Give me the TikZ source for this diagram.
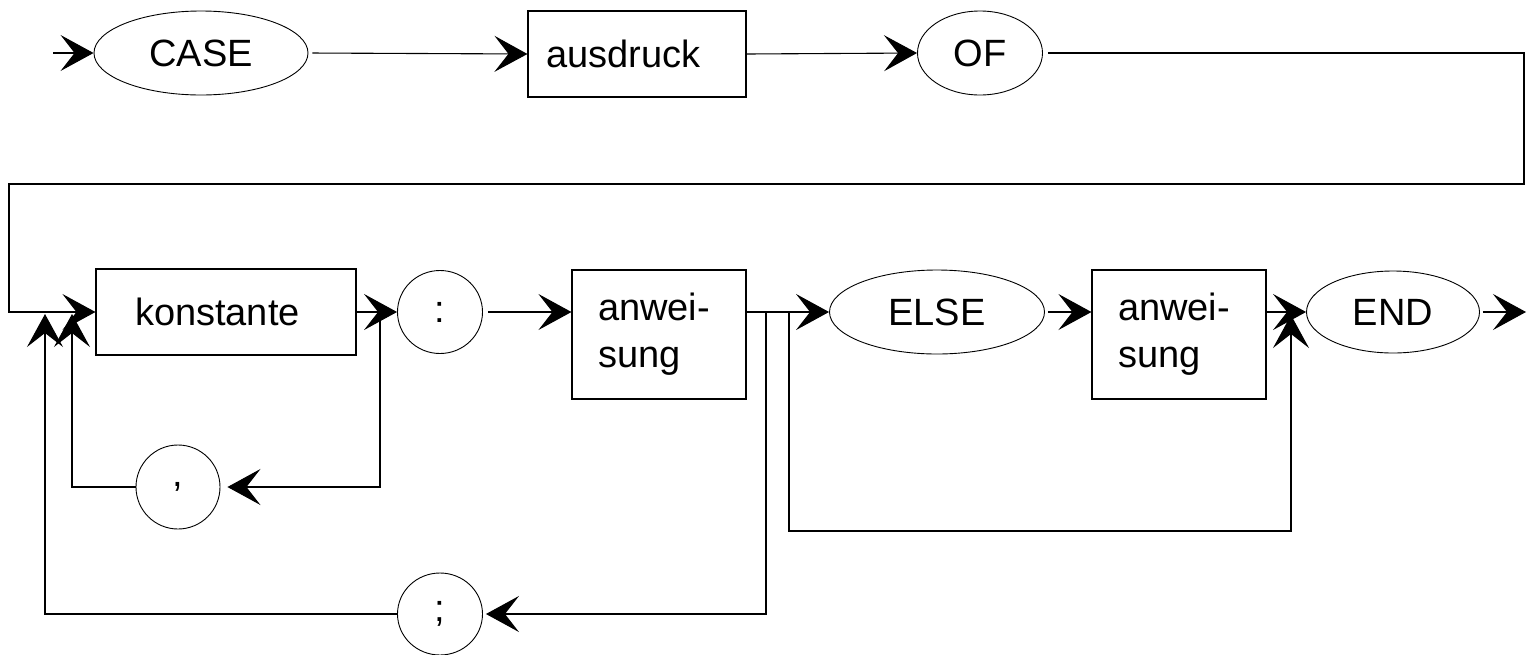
\documentclass[tikz,border=0pt]{standalone}
\usepackage{fontspec}
\setmainfont{Liberation Sans}
\usetikzlibrary{arrows.meta,shapes.geometric}
\begin{document}
\begin{tikzpicture}[x=1pt,y=-1pt,
  every node/.style={font=\fontsize{38pt}{47pt}\selectfont, inner sep=0pt},
  term/.style={draw, ellipse, line width=0.9pt},
  nonterm/.style={draw, rectangle, line width=1.1pt, align=left},
  conn/.style={line width=1.1pt},
  arr/.style={conn, -{Stealth[length=33pt,width=36pt,inset=14pt]}},
]
\useasboundingbox (0,0) rectangle (1534,654);

% first row: CASE ausdruck OF
\node[term, minimum width=214pt, minimum height=84pt] (case) at (201,53) {CASE};
\node[nonterm, minimum width=218pt, minimum height=86pt, text width=182pt] (ausdruck) at (637,54) {ausdruck};
\node[term, minimum width=125pt, minimum height=84pt] (of) at (980,53) {OF};

% second row: case list, ELSE part, END
\node[nonterm, minimum width=260pt, minimum height=86pt, text width=182pt] (konst) at (226,312) {konstante};
\node[term, minimum width=85pt, minimum height=83pt] (colon) at (440,312) {:};
\node[nonterm, minimum width=174pt, minimum height=129pt, text width=122pt] (anw1) at (659,334.5) {anwei-\\sung};
\node[term, minimum width=215pt, minimum height=84pt] (else) at (937,312) {ELSE};
\node[nonterm, minimum width=174pt, minimum height=129pt, text width=122pt] (anw2) at (1179,334.5) {anwei-\\sung};
\node[term, minimum width=173pt, minimum height=82pt] (end) at (1393,312) {END};

% separators on the return paths
\node[term, minimum width=84pt, minimum height=84pt] (comma) at (178,487) {,};
\node[term, minimum width=85pt, minimum height=82pt] (semi) at (440,614) {;};

% route points
\coordinate (start) at (53,53);
\coordinate (r1) at (1524,53);
\coordinate (r2) at (1524,184);
\coordinate (l1) at (9,184);
\coordinate (l2) at (9,312);
\coordinate (exit) at (1526,312);
\coordinate (kj) at (380,312);
\coordinate (ku) at (72,314);
\coordinate (aj) at (766,312);
\coordinate (au) at (45,314);
\coordinate (ej) at (789,312);
\coordinate (eb) at (789,531);
\coordinate (eu) at (1291,315);

% main path
\draw[arr] (start) -- (case.west);
\draw[arr, shorten <=4pt] (case.east) -- (ausdruck.west);
\draw[arr] (ausdruck.east) -- (of.west);
\draw[arr, shorten <=5pt] (of.east) -- (r1) -- (r2) -- (l1) -- (l2) -- (konst.west);
\draw[arr] (konst.east) -- (colon.west);
\draw[arr, shorten <=5pt] (colon.east) -- (colon.east -| anw1.west);
\draw[arr] (anw1.east |- else.west) -- (else.west);
\draw[arr, shorten <=3pt] (else.east) -- (else.east -| anw2.west);
\draw[arr] (anw2.east |- end.west) -- (end.west);
\draw[arr, shorten <=3pt] (end.east) -- (exit);

% loops
\draw[arr, shorten >=7pt] (kj) |- (comma.east);
\draw[arr] (comma.west) -| (ku);
\draw[arr, shorten >=3pt] (aj) |- (semi.east);
\draw[arr] (semi.west) -| (au);
\draw[arr] (ej) -- (eb) -| (eu);
\end{tikzpicture}
\end{document}
